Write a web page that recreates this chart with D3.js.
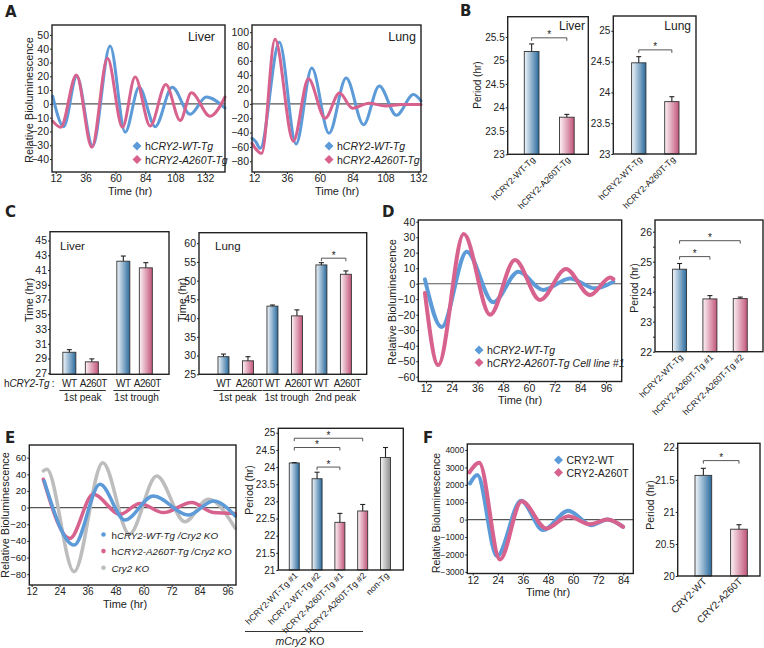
<!DOCTYPE html>
<html>
<head>
<meta charset="utf-8">
<script src="https://d3js.org/d3.v7.min.js"></script>
<style>
body { margin: 0; background: #fff; }
svg text { font-family: "Liberation Sans", Arial, sans-serif; fill: #222; }
</style>
</head>
<body>
<div id="fig"></div>
<script>
// ---------- data (hr, relative bioluminescence) ----------
const liverWT  = [[9.6,5.5],[18.4,-16.5],[28.9,20],[41.7,-30.5],[55.7,42],[67.8,-20.5],[79,12],[91.9,-16.5],[105.6,12],[120,-7.5],[133,5],[148,-3]];
const liverMut = [[9.6,-12.5],[16,-17],[28.6,21],[41,-31.5],[53.6,33],[65.6,-17],[75.8,19.5],[87.9,-16],[100.5,14],[112,-12],[121,8],[136,-9],[148,5]];
const lungWT   = [[10.5,-48],[13,-52],[16.5,-62],[30.5,86],[42.7,-56],[54.2,50],[66.8,-41],[79.3,36],[92,-29],[103.5,25],[116,-16],[128.5,13],[134,4]];
const lungMut  = [[10.5,-55],[17.6,-69],[27.3,90],[40.7,-52],[51.7,35],[63.9,-20],[74.4,15],[84,-6],[96,1],[108,-3],[120,-1],[134,-1]];
const dWT  = [[11.5,2.8],[19.3,-28],[31,20.6],[43.4,-12],[55.1,7.7],[66.7,-4],[79.2,3.4],[90.8,-3],[99.4,1.3]];
const dMut = [[11.5,-6],[17.7,-52.5],[29.6,32],[41.9,-20],[53.5,15.3],[65.2,-10.5],[77.3,9.5],[88.5,-7.3],[98,4],[99.4,3]];
const eWT  = [[17.4,32],[30.2,-45],[41.3,28],[52,-15],[64.1,14],[79.2,-9],[89.9,8],[99.3,-10]];
const eMut = [[17,34],[28.4,-37],[38.4,16],[49.9,-8],[58.4,5],[68.4,-6],[80.6,6],[89.9,-6],[99.3,-7]];
const eKO  = [[17,44],[18.5,46],[30.2,-77],[42.5,54],[53.9,-32],[65.6,38],[77.7,-17],[87.7,10],[99.3,-25]];
const fWT  = [[10.7,2080],[14.2,2560],[23.6,-2100],[35.1,1080],[45.7,-600],[57.7,510],[68.8,-320],[76.3,10],[83.9,-410]];
const fMut = [[10.4,2715],[15.1,3270],[25,-2290],[35.4,1050],[47.3,-510],[57.7,200],[68,-260],[76.6,10],[83.9,-410]];

// ---------- data (bar charts) ----------
const bLiverCats = ['hCRY2-WT-Tg','hCRY2-A260T-Tg'];
const bLiverVals = [25.19, 23.79];
const bLiverErr  = [0.16, 0.06];
const bLungCats  = ['hCRY2-WT-Tg','hCRY2-A260T-Tg'];
const bLungVals  = [24.48, 23.85];
const bLungErr   = [0.10, 0.08];

const cLiverCats = ['WT','A260T','WT','A260T'];
const cLiverGroups = ['1st peak','1st trough'];
const cLiverVals = [29.85, 28.55, 42.2, 41.3];
const cLiverErr  = [0.35, 0.4, 0.7, 0.7];
const cLungCats  = ['WT','A260T','WT','A260T','WT','A260T'];
const cLungGroups = ['1st peak','1st trough','2nd peak'];
const cLungVals  = [29.7, 28.6, 43.2, 40.6, 54.2, 51.7];
const cLungErr   = [0.7, 1.1, 0.3, 1.6, 0.6, 0.9];

const dBarCats = ['hCRY2-WT-Tg','hCRY2-A260T-Tg #1','hCRY2-A260T-Tg #2'];
const dBarVals = [24.75, 23.76, 23.77];
const dBarErr  = [0.19, 0.11, 0.05];

const eBarCats = ['hCRY2-WT-Tg #1','hCRY2-WT-Tg #2','hCRY2-A260T-Tg #1','hCRY2-A260T-Tg #2','non-Tg'];
const eBarVals = [24.12, 23.66, 22.39, 22.72, 24.28];
const eBarErr  = [0.01, 0.19, 0.26, 0.19, 0.29];

const fBarCats = ['CRY2-WT','CRY2-A260T'];
const fBarVals = [21.57, 20.73];
const fBarErr  = [0.11, 0.07];

const BLUE = '#5d9bd8', PINK = '#d8628e', GRAY = '#bdbdbd';

const svg = d3.select('#fig').append('svg').attr('width', 764).attr('height', 648);

// gradients for bars
const defs = svg.append('defs');
[['gBlue', '#f2f7fc', '#2a6a9c'], ['gPink', '#fdf3f6', '#c2557b'], ['gGray', '#f5f5f5', '#8c8c8c']].forEach(([id, a, b]) => {
    const lg = defs.append('linearGradient').attr('id', id).attr('x1', '0%').attr('x2', '100%');
    lg.append('stop').attr('offset', '0%').attr('stop-color', a);
    lg.append('stop').attr('offset', '100%').attr('stop-color', b);
});
const fillOf = { b: 'url(#gBlue)', p: 'url(#gPink)', g: 'url(#gGray)' };

function rich(sel, parts) {
    parts.forEach(([t, it]) => sel.append('tspan').text(t).attr('font-style', it ? 'italic' : 'normal'));
    return sel;
}

function styleAxis(a, fs) {
    a.select('.domain').remove();
    a.selectAll('line').attr('stroke', '#222');
    a.selectAll('text').attr('font-size', fs).attr('fill', '#222').style('font-family', '"Liberation Sans", Arial, sans-serif');
}

function frame(g, p) {
    g.append('rect').attr('x', p.l).attr('y', p.t).attr('width', p.r - p.l).attr('height', p.b - p.t)
        .attr('fill', 'none').attr('stroke', '#222').attr('stroke-width', 1.4);
}

function yLabel(text, x, y, fs) {
    svg.append('text').attr('transform', `translate(${x},${y}) rotate(-90)`)
        .attr('text-anchor', 'middle').attr('font-size', fs || 11).text(text);
}

function linePanel(p) {
    const x = d3.scaleLinear().domain(p.xDom).range([p.l, p.r]);
    const y = d3.scaleLinear().domain(p.yDom).range([p.b, p.t]);
    const g = svg.append('g');
    g.append('line').attr('x1', p.l).attr('x2', p.r).attr('y1', y(0)).attr('y2', y(0))
        .attr('stroke', '#555').attr('stroke-width', 1.1);
    const line = d3.line().x(d => x(d[0])).y(d => y(d[1])).curve(d3.curveMonotoneX);
    p.series.forEach(s => {
        g.append('path').attr('d', line(s.data)).attr('fill', 'none')
            .attr('stroke', s.color).attr('stroke-width', p.sw || 3).attr('stroke-linecap', 'round');
    });
    g.append('g').attr('transform', `translate(0,${p.b})`)
        .call(d3.axisBottom(x).tickValues(p.xTicks).tickSize(2).tickSizeOuter(0).tickPadding(1))
        .call(a => styleAxis(a, p.fs));
    g.append('g').attr('transform', `translate(${p.l},0)`)
        .call(d3.axisLeft(y).tickValues(p.yTicks).tickSize(2).tickSizeOuter(0).tickPadding(1).tickFormat(d3.format('d')))
        .call(a => styleAxis(a, p.yfs || p.fs));
    frame(g, p);
    // legend
    if (p.legend) {
        p.legend.forEach((it, i) => {
            const ly = p.legend.y + i * p.legend.dy;
            if (p.legend.marker === 'dot') {
                g.append('circle').attr('cx', p.legend.x).attr('cy', ly).attr('r', 2.3).attr('fill', it.color);
            } else {
                g.append('rect').attr('x', -3.2).attr('y', -3.2).attr('width', 6.4).attr('height', 6.4)
                    .attr('fill', it.color).attr('transform', `translate(${p.legend.x},${ly}) rotate(45)`);
            }
            rich(g.append('text').attr('x', p.legend.x + 8).attr('y', ly + 4).attr('font-size', p.legend.fs), it.label);
        });
    }
    return { x, y, g };
}

function barPanel(p) {
    const y = d3.scaleLinear().domain(p.yDom).range([p.b, p.t]);
    const x = d3.scaleLinear().domain(p.xDom).range([p.l, p.r]);
    const pos = i => x(p.slot ? p.slot(i) : i);
    const g = svg.append('g');
    p.vals.forEach((v, i) => {
        const cx = pos(i);
        g.append('rect').attr('x', cx - p.bw / 2).attr('y', y(v)).attr('width', p.bw).attr('height', p.b - y(v))
            .attr('fill', fillOf[p.colors[i]]).attr('stroke', '#333').attr('stroke-width', 0.9);
        const ye = y(v + p.err[i]);
        g.append('line').attr('x1', cx).attr('x2', cx).attr('y1', y(v)).attr('y2', ye).attr('stroke', '#222').attr('stroke-width', 1.1);
        g.append('line').attr('x1', cx - 2.5).attr('x2', cx + 2.5).attr('y1', ye).attr('y2', ye).attr('stroke', '#222').attr('stroke-width', 1.1);
    });
    (p.sig || []).forEach(([i, j, v]) => {
        const yy = y(v);
        g.append('path').attr('d', `M${pos(i)},${yy + 3}V${yy}H${pos(j)}V${yy + 3}`)
            .attr('fill', 'none').attr('stroke', '#444').attr('stroke-width', 0.9);
        g.append('text').attr('x', (pos(i) + pos(j)) / 2).attr('y', yy + 0.5).attr('text-anchor', 'middle')
            .attr('font-size', 10).text('*');
    });
    const ax = d3.axisLeft(y).tickValues(p.yTicks).tickSize(2).tickSizeOuter(0).tickPadding(1).tickFormat(d => String(d));
    g.append('g').attr('transform', `translate(${p.l},0)`).call(ax).call(a => styleAxis(a, p.fs));
    if (p.minor) {
        g.append('g').attr('transform', `translate(${p.l},0)`)
            .call(d3.axisLeft(y).tickValues(p.minor).tickSize(2).tickSizeOuter(0).tickFormat(''))
            .call(a => styleAxis(a, p.fs));
    }
    frame(g, p);
    if (p.cats) {
        p.cats.forEach((c, i) => {
            g.append('text').attr('transform', `translate(${pos(i) + 4},${p.b + 6}) rotate(-45)`)
                .attr('text-anchor', 'end').attr('font-size', p.cfs || 9).text(c);
        });
    }
    return { x, y, g, pos };
}

// ---------- panel A ----------
const legA = (x) => Object.assign([
    { color: BLUE, label: [['h', 0], ['CRY2-WT-Tg', 1]] },
    { color: PINK, label: [['h', 0], ['CRY2-A260T-Tg', 1]] }
], { x: x, y: 146, dy: 13.5, fs: 10.5 });

linePanel({ l: 52, r: 225, t: 25, b: 172, xDom: [9, 148], yDom: [-49.4, 57.2],
    xTicks: [12, 36, 60, 84, 108, 132], yTicks: d3.range(-40, 51, 10), fs: 10.5,
    series: [{ data: liverWT, color: BLUE }, { data: liverMut, color: PINK }], legend: legA(137) });
linePanel({ l: 252, r: 421, t: 25, b: 172, xDom: [10.5, 134], yDom: [-95, 110],
    xTicks: [12, 36, 60, 84, 108, 132], yTicks: d3.range(-80, 101, 20), fs: 10.5,
    series: [{ data: lungWT, color: BLUE }, { data: lungMut, color: PINK }], legend: legA(329) });
svg.append('text').attr('x', 215).attr('y', 41).attr('text-anchor', 'end').attr('font-size', 12.5).text('Liver');
svg.append('text').attr('x', 416).attr('y', 41).attr('text-anchor', 'end').attr('font-size', 12.5).text('Lung');
yLabel('Relative Bioluminescence', 33, 100, 11);
svg.append('text').attr('x', 130).attr('y', 195).attr('text-anchor', 'middle').attr('font-size', 11).text('Time (hr)');
svg.append('text').attr('x', 337).attr('y', 195).attr('text-anchor', 'middle').attr('font-size', 11).text('Time (hr)');

// ---------- panel B ----------
barPanel({ l: 507.7, r: 588.3, t: 16.7, b: 154.3, yDom: [23, 25.93], xDom: [-0.68, 1.61], bw: 14.7,
    yTicks: [23, 23.5, 24, 24.5, 25, 25.5], fs: 10, vals: bLiverVals, err: bLiverErr, colors: ['b', 'p'],
    sig: [[0, 1, 25.48]], cats: bLiverCats, cfs: 8.8 });
barPanel({ l: 613.3, r: 696, t: 16, b: 154, yDom: [23, 25.24], xDom: [-0.77, 1.73], bw: 14.3,
    yTicks: [23, 23.5, 24, 24.5, 25], fs: 10, vals: bLungVals, err: bLungErr, colors: ['b', 'p'],
    sig: [[0, 1, 24.69]], cats: bLungCats, cfs: 8.8 });
svg.append('text').attr('x', 585).attr('y', 30).attr('text-anchor', 'end').attr('font-size', 12).text('Liver');
svg.append('text').attr('x', 691).attr('y', 30).attr('text-anchor', 'end').attr('font-size', 12).text('Lung');
yLabel('Period (hr)', 481, 85, 10);

// ---------- panel C ----------
const cl = barPanel({ l: 50, r: 169, t: 231.7, b: 374.3, yDom: [26.86, 46.2], xDom: [-0.86, 4.43], bw: 13,
    slot: i => i + Math.floor(i / 2) * 0.4,
    yTicks: d3.range(27, 46, 2), fs: 10.5, vals: cLiverVals, err: cLiverErr, colors: ['b', 'p', 'b', 'p'] });
const cg = barPanel({ l: 199, r: 366.7, t: 232.7, b: 374.3, yDom: [25, 62.8], xDom: [-1.0, 5.85], bw: 11,
    yTicks: d3.range(25, 61, 5), fs: 10.5, vals: cLungVals, err: cLungErr, colors: ['b', 'p', 'b', 'p', 'b', 'p'],
    sig: [[4, 5, 56]] });
svg.append('text').attr('x', 60).attr('y', 250).attr('font-size', 11.5).text('Liver');
svg.append('text').attr('x', 215).attr('y', 250).attr('font-size', 11.5).text('Lung');
yLabel('Time (hr)', 33, 300, 11);
yLabel('Time (hr)', 186, 300, 11);
rich(svg.append('text').attr('x', 4).attr('y', 387).attr('font-size', 10).attr('letter-spacing', -0.2),
    [['h', 0], ['CRY2-Tg', 1], [' :', 0]]);
[[cl, cLiverCats, cLiverGroups], [cg, cLungCats, cLungGroups]].forEach(([pan, cats, groups]) => {
    cats.forEach((c, i) => svg.append('text').attr('x', pan.pos(i) + (i % 2 ? 1.5 : 0)).attr('y', 387).attr('text-anchor', 'middle')
        .attr('font-size', 10).attr('letter-spacing', -0.45).text(c));
    groups.forEach((gname, k) => {
        const a = pan.pos(2 * k) - 10, b = pan.pos(2 * k + 1) + 14;
        svg.append('line').attr('x1', a).attr('x2', b).attr('y1', 390.5).attr('y2', 390.5).attr('stroke', '#333').attr('stroke-width', 1);
        svg.append('text').attr('x', (a + b) / 2).attr('y', 401).attr('text-anchor', 'middle').attr('font-size', 10).text(gname);
    });
});

// ---------- panel D ----------
linePanel({ l: 418.3, r: 621.7, t: 220, b: 381.5, xDom: [8.4, 103.3], yDom: [-63.1, 41.1],
    xTicks: d3.range(12, 97, 12), yTicks: d3.range(-60, 41, 10), fs: 10.5, sw: 4,
    series: [{ data: dWT, color: BLUE }, { data: dMut, color: PINK }],
    legend: Object.assign([
        { color: BLUE, label: [['h', 0], ['CRY2-WT-Tg', 1]] },
        { color: PINK, label: [['h', 0], ['CRY2-A260T-Tg Cell line #1', 1]] }
    ], { x: 479, y: 350, dy: 12.5, fs: 10.5 }) });
yLabel('Relative Bioluminescence', 396, 302, 11);
svg.append('text').attr('x', 520).attr('y', 404).attr('text-anchor', 'middle').attr('font-size', 11).text('Time (hr)');
barPanel({ l: 655, r: 763, t: 220, b: 351.7, yDom: [22, 26.39], xDom: [-0.81, 2.75], bw: 14,
    yTicks: [22, 23, 24, 25, 26], minor: [22.5, 23.5, 24.5, 25.5], fs: 10.5, vals: dBarVals, err: dBarErr,
    colors: ['b', 'p', 'p'], sig: [[0, 1, 25.17], [0, 2, 25.7]], cats: dBarCats, cfs: 8.8 });
yLabel('Period (hr)', 638, 288, 10.5);

// ---------- panel E ----------
linePanel({ l: 29.3, r: 236, t: 445, b: 585, xDom: [11, 99.6], yDom: [-93, 75.2],
    xTicks: d3.range(12, 97, 12), yTicks: d3.range(-80, 61, 20), fs: 10, yfs: 9.5, sw: 3.5,
    series: [{ data: eKO, color: GRAY }, { data: eMut, color: PINK }, { data: eWT, color: BLUE }],
    legend: Object.assign([
        { color: BLUE, label: [['h', 0], ['CRY2-WT-Tg /Cry2 KO', 1]] },
        { color: PINK, label: [['h', 0], ['CRY2-A260T-Tg /Cry2 KO', 1]] },
        { color: GRAY, label: [['Cry2 KO', 1]] }
    ], { x: 103.5, y: 534.5, dy: 16.6, fs: 9.8, marker: 'dot' }) });
yLabel('Relative Bioluminescence', 9, 515, 11);
svg.append('text').attr('x', 125).attr('y', 608).attr('text-anchor', 'middle').attr('font-size', 11).text('Time (hr)');
barPanel({ l: 278.3, r: 403.3, t: 428.3, b: 570, yDom: [21, 25.13], xDom: [-0.7, 4.78], bw: 10,
    yTicks: d3.range(21, 25.01, 0.5), fs: 10, vals: eBarVals, err: eBarErr,
    colors: ['b', 'b', 'p', 'p', 'g'], sig: [[0, 3, 24.84], [0, 2, 24.57], [1, 2, 24.0]], cats: eBarCats, cfs: 8.8 });
yLabel('Period (hr)', 253, 490, 10.5);
svg.append('line').attr('x1', 245).attr('x2', 363).attr('y1', 631.5).attr('y2', 631.5).attr('stroke', '#333').attr('stroke-width', 1);
rich(svg.append('text').attr('x', 300).attr('y', 645).attr('text-anchor', 'middle').attr('font-size', 10.5), [['mCry2', 1], [' KO', 0]]);

// ---------- panel F ----------
linePanel({ l: 467.3, r: 633.3, t: 444, b: 573.5, xDom: [9.4, 88.8], yDom: [-3094, 4345],
    xTicks: d3.range(12, 85, 12), yTicks: d3.range(-3000, 4001, 1000), fs: 10.5, yfs: 8.5, sw: 4,
    series: [{ data: fWT, color: BLUE }, { data: fMut, color: PINK }],
    legend: Object.assign([
        { color: BLUE, label: [['CRY2-WT', 0]] },
        { color: PINK, label: [['CRY2-A260T', 0]] }
    ], { x: 558.5, y: 460, dy: 12.5, fs: 10.5 }) });
yLabel('Relative Bioluminescence', 440, 513, 10.5);
svg.append('text').attr('x', 548).attr('y', 596).attr('text-anchor', 'middle').attr('font-size', 11).text('Time (hr)');
barPanel({ l: 677.7, r: 760, t: 443.3, b: 576, yDom: [20, 22.07], xDom: [-0.72, 1.59], bw: 16.7,
    yTicks: [20, 20.5, 21, 21.5, 22], fs: 10, vals: fBarVals, err: fBarErr,
    colors: ['b', 'p'], sig: [[0, 1, 21.8]], cats: fBarCats, cfs: 10 });
yLabel('Period (hr)', 654, 505, 10.5);

// ---------- panel letters ----------
[['A', 5, 17], ['B', 460, 16], ['C', 5, 217], ['D', 382, 217], ['E', 5, 443], ['F', 423, 443]].forEach(([t, x, y]) => {
    svg.append('text').attr('x', x).attr('y', y).attr('font-size', 15).attr('font-weight', 'bold')
        .style('font-family', '"DejaVu Sans", Arial, sans-serif').text(t);
});
</script>
</body>
</html>
